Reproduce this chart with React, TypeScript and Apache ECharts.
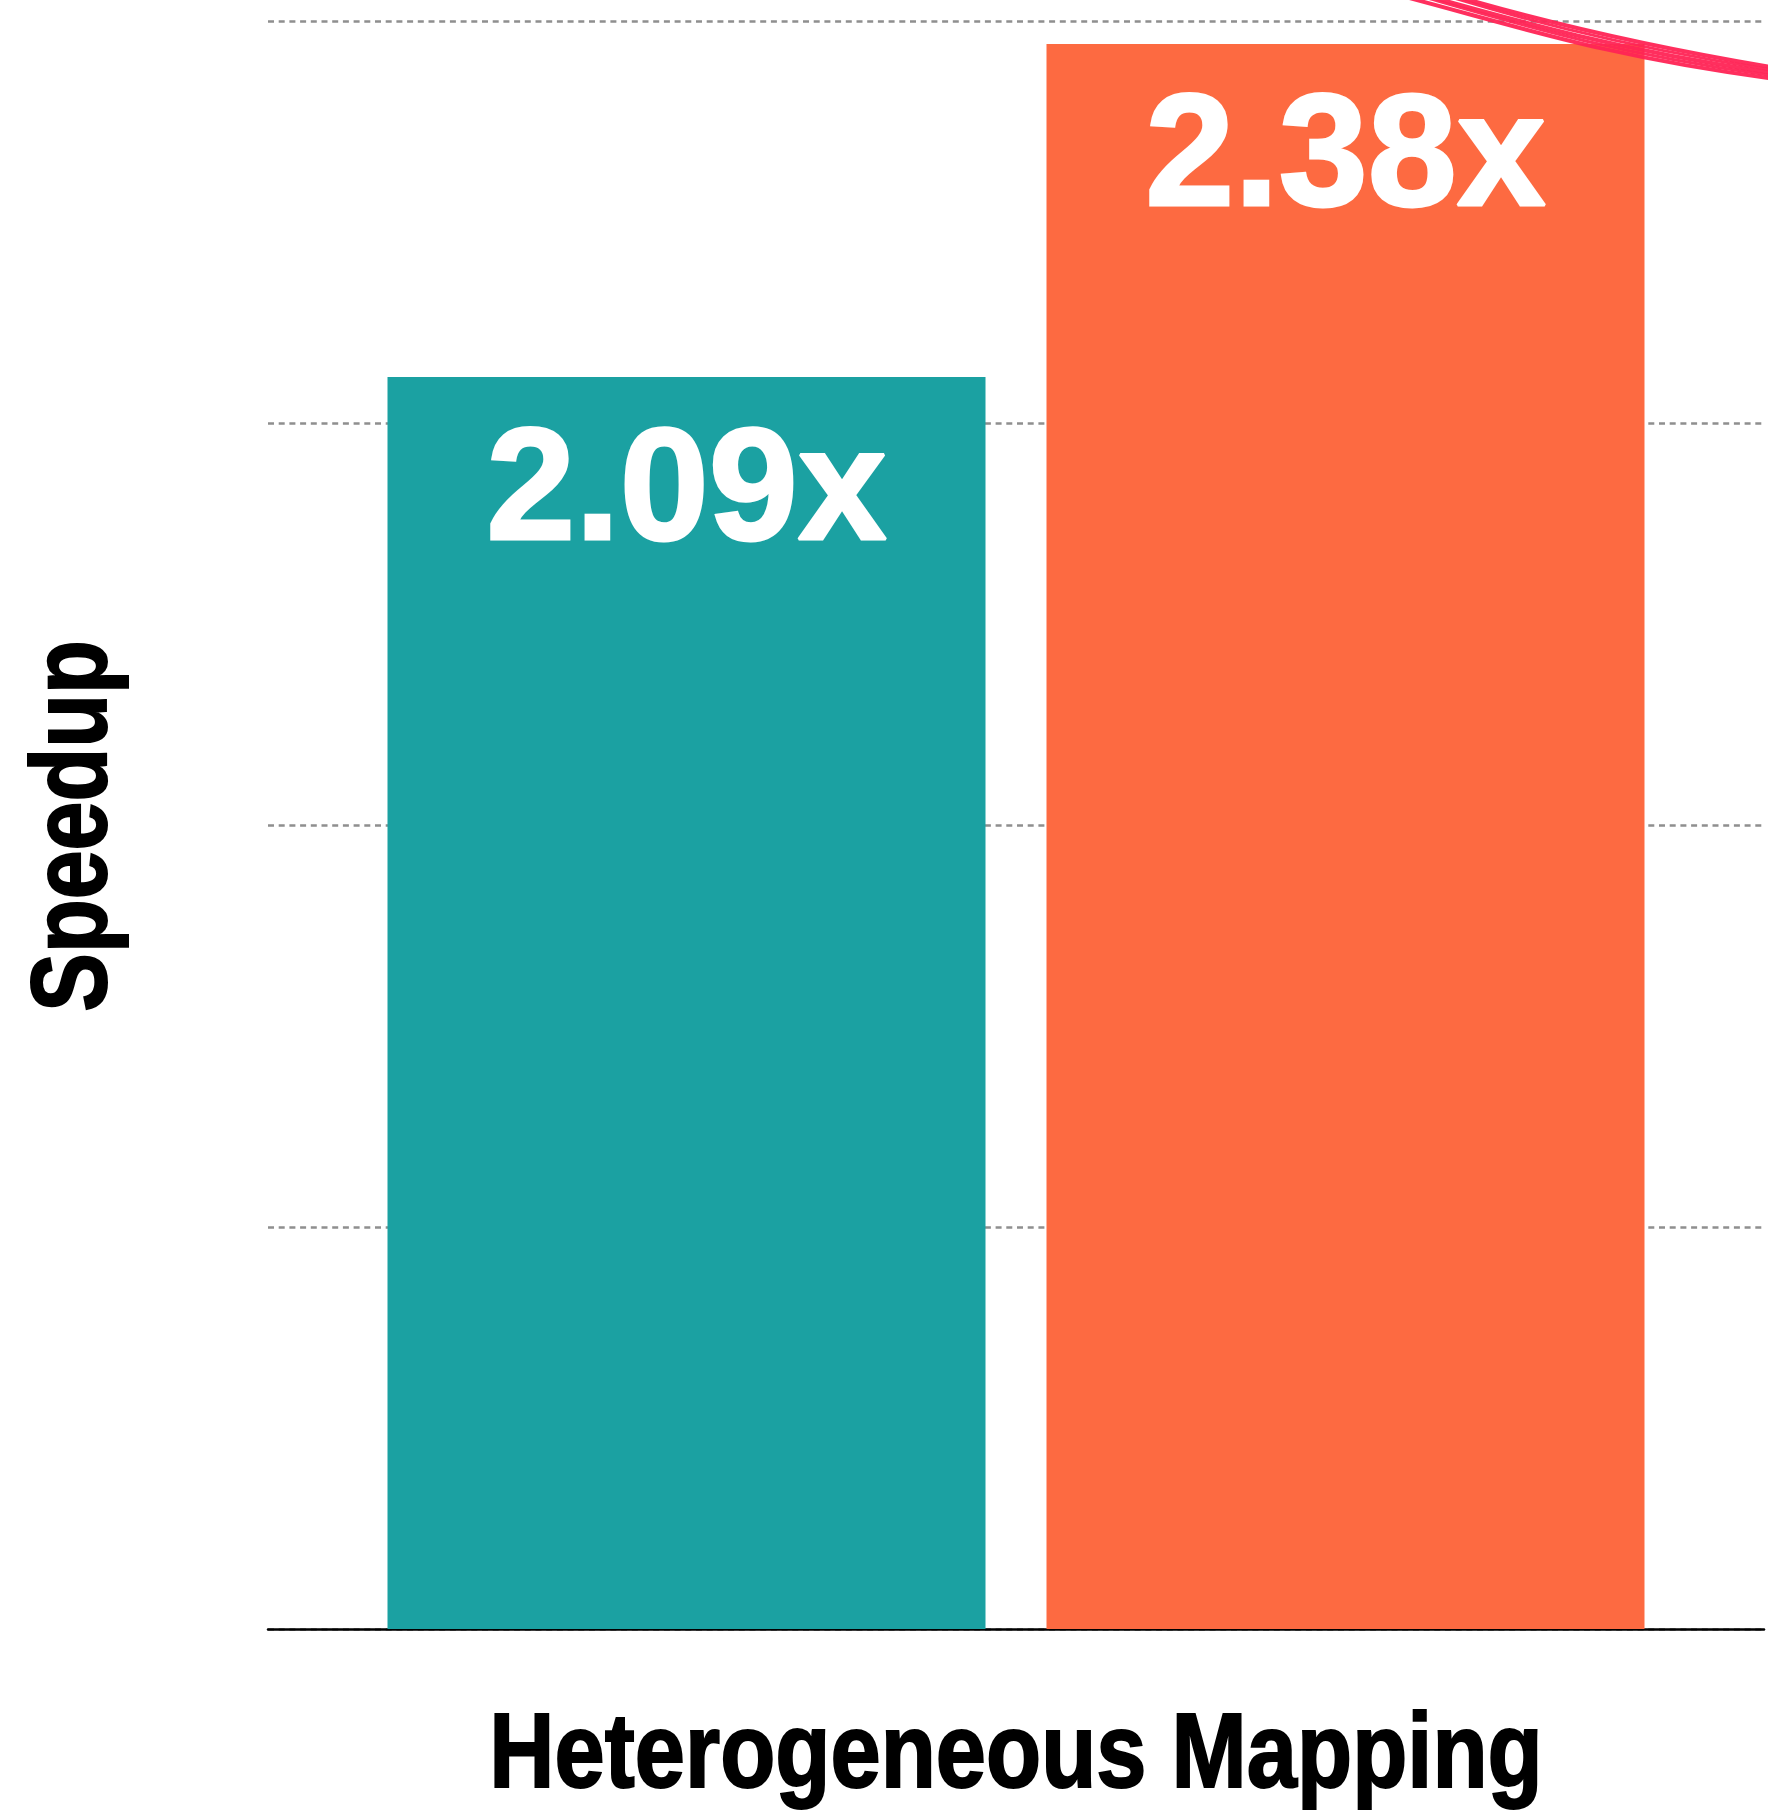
import React, { useEffect, useRef } from "react";
import * as echarts from "echarts";

const categories = ["Heterogeneous Mapping"];
const seriesNames = ["Baseline", "Ours"];
const seriesValues = [[2.09], [2.38]];
const seriesColors = ["#1ba1a2", "#fd6a41"];
const axisMin = 1;
const axisMax = 2.4;
const yAxisName = "Speedup";

const FONT = '"Liberation Sans", Arial, sans-serif';

export default function App() {
  const ref = useRef<HTMLDivElement>(null);
  useEffect(() => {
    document.body.style.margin = "0";
    const chart = echarts.init(ref.current!, null, { renderer: "svg" });
    const pink = "#ff2455";
    const strokes = [
      { dy: -9, w: 4, a: 0 },
      { dy: -5, w: 3, a: 6 },
      { dy: -1, w: 4, a: -4 },
      { dy: 3, w: 3, a: 3 },
      { dy: 7, w: 4, a: -2 },
    ].map((s, i) => ({
      type: "bezierCurve",
      shape: {
        x1: 1400 + s.a, y1: -12 + s.dy,
        cpx1: 1500 + i * 5, cpy1: 20 + s.dy,
        cpx2: 1620 - i * 4, cpy2: 50 + s.dy * 0.9,
        x2: 1775, y2: 74 + s.dy * 0.7,
      },
      style: { stroke: pink, lineWidth: s.w, fill: null, opacity: 0.95 },
      z: 100,
    }));
    chart.setOption({
      animation: false,
      backgroundColor: "#ffffff",
      grid: { left: 268, right: 4, top: 21, bottom: 181, containLabel: false },
      xAxis: {
        type: "category",
        data: categories,
        axisLine: { onZero: false, lineStyle: { color: "#000", width: 2.5 } },
        axisTick: { show: false },
        axisLabel: { show: false },
      },
      yAxis: [
        {
          type: "value",
          min: axisMin,
          max: axisMax,
          axisLine: { show: false },
          axisTick: { show: false },
          axisLabel: { show: false },
          splitLine: { show: false },
        },
        {
          type: "value",
          min: 0,
          max: 4,
          interval: 1,
          position: "right",
          axisLine: { show: false },
          axisTick: { show: false },
          axisLabel: { show: false },
          splitLine: { show: true, lineStyle: { color: "#8f8f8f", width: 2.5, type: [6, 4.7] } },
        },
      ],
      series: seriesNames.map((n, i) => ({
        name: n,
        type: "bar",
        yAxisIndex: 0,
        data: seriesValues[i],
        barWidth: 598,
        barGap: "10.2%",
        itemStyle: { color: seriesColors[i] },
        label: {
          show: true,
          position: "insideTop",
          distance: 26,
          formatter: (p: any) => Number(p.value).toFixed(2) + "x",
          fontFamily: FONT,
          fontWeight: "bold",
          fontSize: 160,
          color: "#fff",
          textBorderColor: "#fff",
          textBorderWidth: 3,
        },
      })),
      graphic: [
        ...strokes,
        {
          type: "text",
          x: 1016,
          y: 1751,
          scaleX: 0.86,
          style: {
            text: categories[0],
            font: `bold 105px ${FONT}`,
            fill: "#000",
            align: "center",
            verticalAlign: "middle",
            stroke: "#000",
            lineWidth: 2,
          },
        },
        {
          type: "text",
          x: 69,
          y: 826,
          rotation: Math.PI / 2,
          scaleX: 0.815,
          style: {
            text: yAxisName,
            font: `bold 108px ${FONT}`,
            fill: "#000",
            align: "center",
            verticalAlign: "middle",
            stroke: "#000",
            lineWidth: 2,
          },
        },
      ],
    });
    return () => chart.dispose();
  }, []);
  return <div ref={ref} style={{ width: 1768, height: 1810 }} />;
}
